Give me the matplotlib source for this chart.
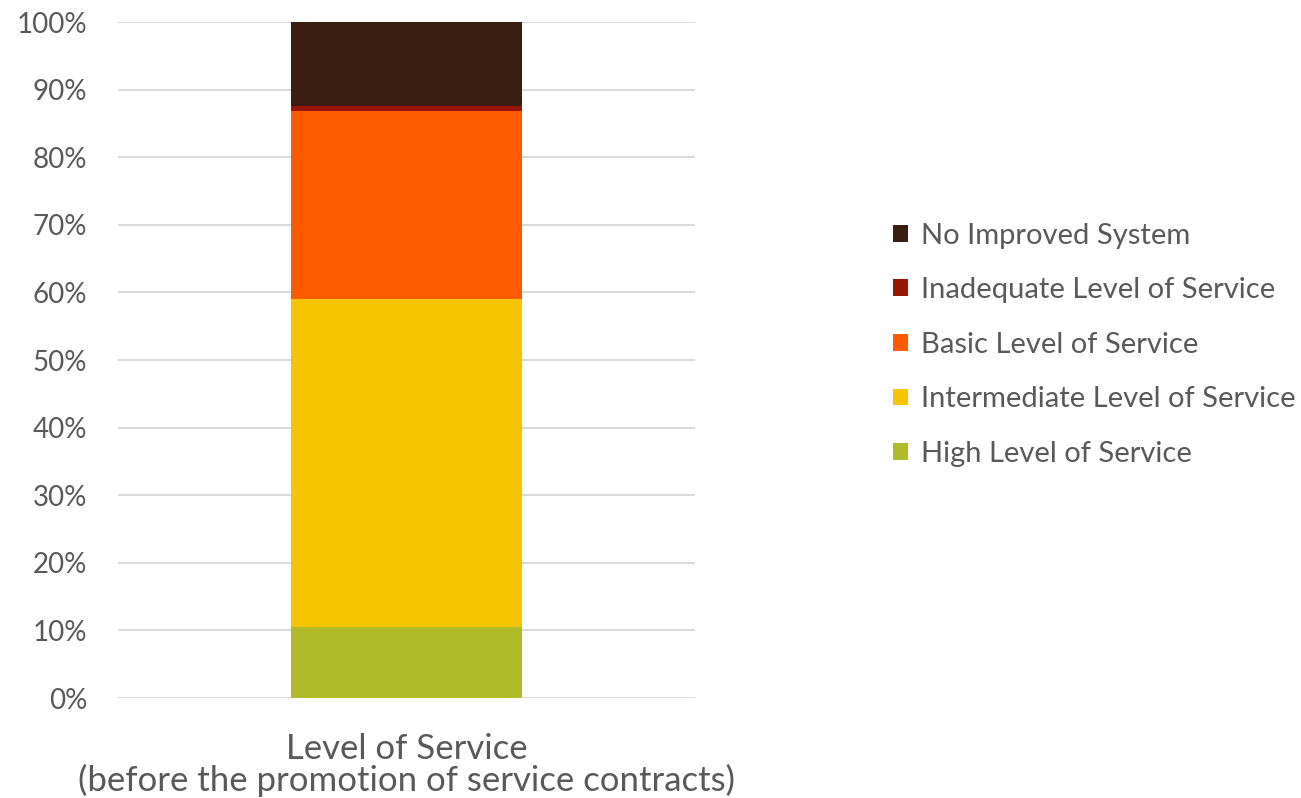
import numpy as np
import matplotlib.pyplot as plt
from matplotlib.patches import Patch

plt.rcParams['font.family'] = ['Lato', 'DejaVu Sans']

category = "Level of Service\n(before the promotion of service contracts)"
series = ["High Level of Service", "Intermediate Level of Service",
          "Basic Level of Service", "Inadequate Level of Service",
          "No Improved System"]
values = [10.5, 48.5, 27.8, 0.8, 12.4]
colors = ["#afbb28", "#f8c400", "#ff5a00", "#9a1406", "#3a1e12"]

fig = plt.figure(figsize=(13.01, 7.98), dpi=100)
ax = fig.add_axes([0.0907, 0.1253, 0.4435, 0.8471])

bottom = 0
for name, v, c in zip(series, values, colors):
    ax.bar(0, v, width=0.4, bottom=bottom, color=c, label=name, zorder=3)
    bottom += v

ax.set_xlim(-0.5, 0.5)
ax.set_ylim(0, 100)
ax.set_yticks(np.arange(0, 101, 10))
ax.set_yticklabels([f"{t}%" for t in range(0, 101, 10)])
ax.yaxis.grid(True, color="#d9d9d9", linewidth=1.5, zorder=0)
ax.set_xticks([0])
ax.set_xticklabels([category], fontsize=25, color="#595959", linespacing=0.97)
ax.tick_params(axis="y", length=0, labelsize=20, labelcolor="#595959", pad=22)
ax.tick_params(axis="x", length=0, pad=25)
for s in ax.spines.values():
    s.set_visible(False)

handles = [Patch(facecolor=c, label=n) for n, c in zip(series, colors)][::-1]
fig.legend(handles=handles, loc="center left", bbox_to_anchor=(0.6864, 0.568),
           frameon=False, fontsize=21, labelcolor="#595959",
           borderpad=0, borderaxespad=0,
           handlelength=0.5, handleheight=0.5, handletextpad=0.45,
           labelspacing=0.98)

fig.savefig("out.png", dpi=100)
